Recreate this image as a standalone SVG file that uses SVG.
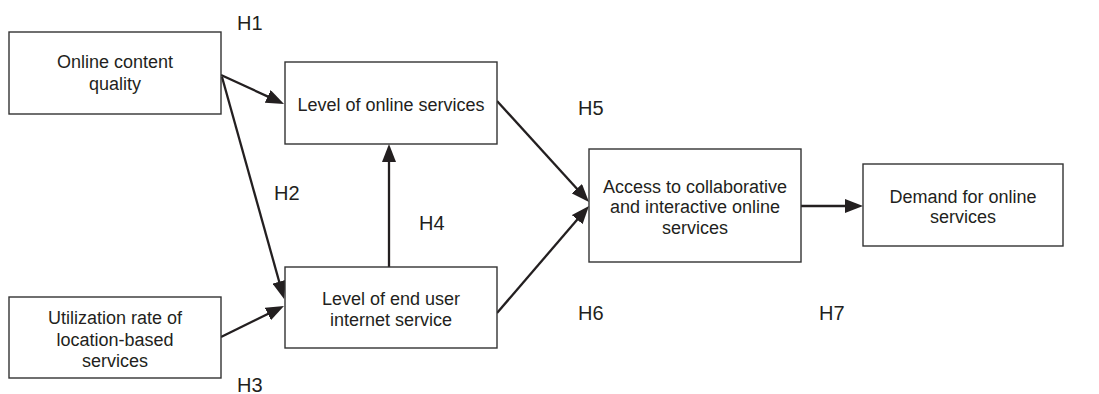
<svg xmlns="http://www.w3.org/2000/svg" width="1099" height="394" viewBox="0 0 1099 394">
<style>
.box{fill:#fff;stroke:#333;stroke-width:1.4}
.t{font-family:"Liberation Sans",Arial,sans-serif;font-size:18px;fill:#231f20;text-anchor:middle}
.h{font-family:"Liberation Sans",Arial,sans-serif;font-size:20px;fill:#231f20}
.c{stroke:#231f20;stroke-width:2.3;fill:none;marker-end:url(#ah)}
</style>
<defs>
<marker id="ah" markerUnits="userSpaceOnUse" markerWidth="18" markerHeight="14" refX="13" refY="7" orient="auto">
<path d="M0,0 L18,7 L0,14 z" fill="#231f20"/>
</marker>
</defs>
<rect width="1099" height="394" fill="#fff"/>
<g id="connectors">
<line class="c" x1="221" y1="75" x2="279.5" y2="101.9"/>
<line class="c" x1="222" y1="77" x2="282.7" y2="294.2"/>
<line class="c" x1="221" y1="337" x2="279.5" y2="308.2"/>
<line class="c" x1="389" y1="267" x2="389" y2="149"/>
<line class="c" x1="497" y1="101" x2="585.6" y2="198.3"/>
<line class="c" x1="497" y1="313" x2="585.7" y2="209.8"/>
<line class="c" x1="801" y1="206" x2="858" y2="206"/>
</g>
<g id="labels">
<text class="h" x="237" y="30">H1</text>
<text class="h" x="274" y="200">H2</text>
<text class="h" x="237" y="392">H3</text>
<text class="h" x="419" y="230">H4</text>
<text class="h" x="578" y="115">H5</text>
<text class="h" x="578" y="320">H6</text>
<text class="h" x="819" y="320">H7</text>
</g>
<g id="n1"><rect class="box" x="9" y="32" width="212" height="82"/>
<text class="t" x="115" y="68">Online content</text><text class="t" x="115" y="90">quality</text></g>
<g id="n2"><rect class="box" x="285" y="62" width="212" height="82"/>
<text class="t" x="391" y="111">Level of online services</text></g>
<g id="n3"><rect class="box" x="9" y="297" width="212" height="81"/>
<text class="t" x="115" y="324">Utilization rate of</text><text class="t" x="115" y="346">location-based</text><text class="t" x="115" y="367">services</text></g>
<g id="n4"><rect class="box" x="285" y="267" width="212" height="81"/>
<text class="t" x="391" y="305">Level of end user</text><text class="t" x="391" y="326">internet service</text></g>
<g id="n5"><rect class="box" x="589" y="149" width="212" height="113"/>
<text class="t" x="695" y="193">Access to collaborative</text><text class="t" x="695" y="213">and interactive online</text><text class="t" x="695" y="234">services</text></g>
<g id="n6"><rect class="box" x="863" y="164" width="200" height="82"/>
<text class="t" x="963" y="203">Demand for online</text><text class="t" x="963" y="223">services</text></g>
</svg>
